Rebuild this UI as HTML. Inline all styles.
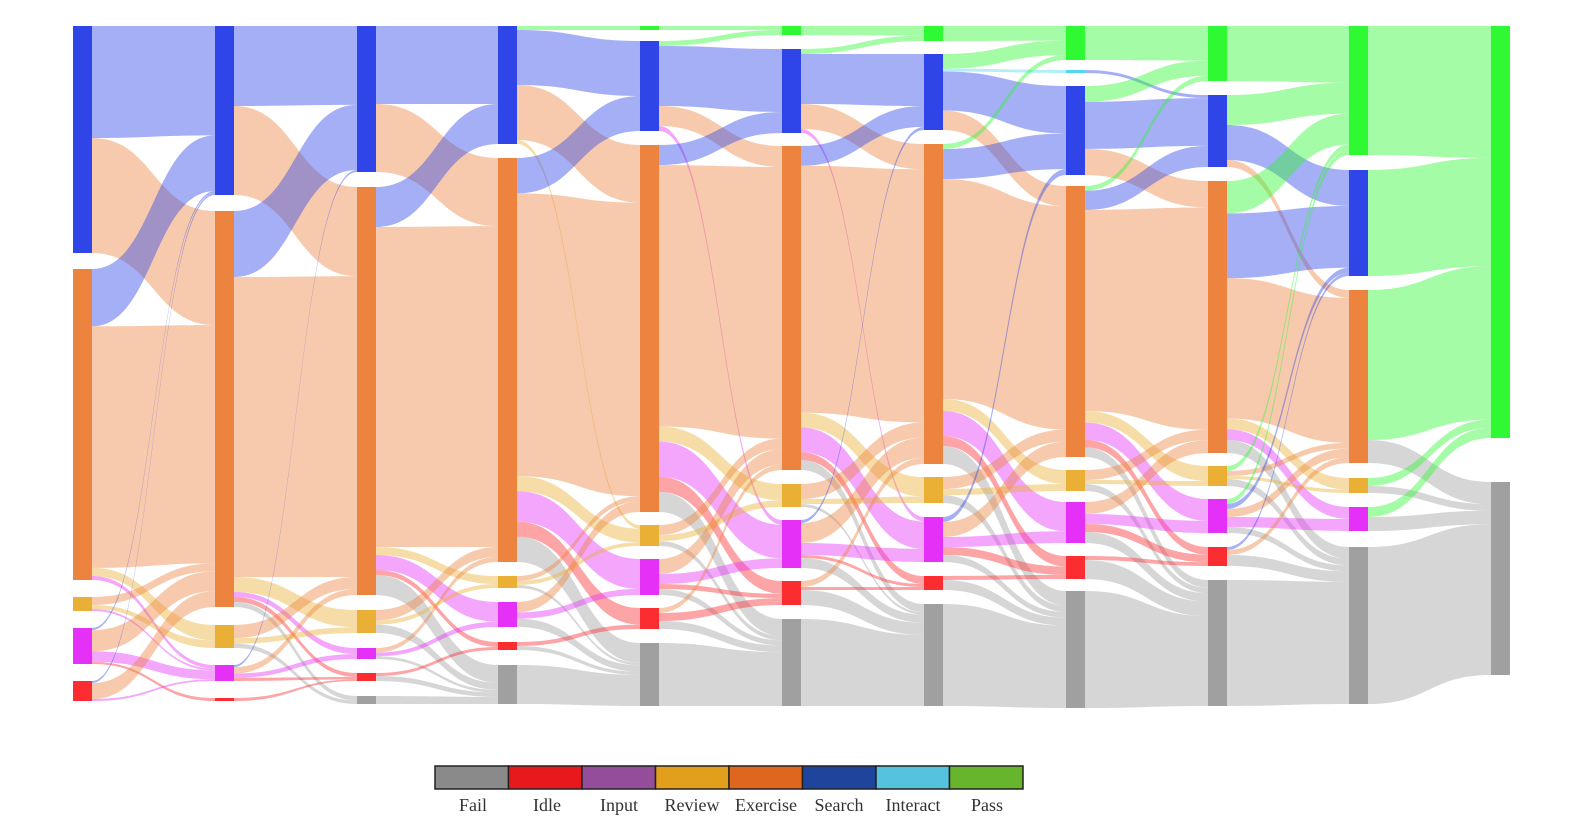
<!DOCTYPE html>
<html style="overflow:hidden"><head><meta charset="utf-8"><style>
html,body{margin:0;padding:0;background:#fff;width:1583px;height:832px;overflow:hidden}
svg{display:block}
</style></head><body>
<svg id="s" width="1583" height="832" xmlns="http://www.w3.org/2000/svg">
<g id="flows"></g><g id="nodes"></g>
<g font-family="Liberation Serif, serif" font-size="18" fill="#333" text-anchor="middle">
<rect x="435" y="766" width="73.5" height="23" fill="#8a8a8a" stroke="#222" stroke-width="1.5"/>
<rect x="508.5" y="766" width="73.5" height="23" fill="#e8191c" stroke="#222" stroke-width="1.5"/>
<rect x="582" y="766" width="73.5" height="23" fill="#944d9b" stroke="#222" stroke-width="1.5"/>
<rect x="655.5" y="766" width="73.5" height="23" fill="#e19f1c" stroke="#222" stroke-width="1.5"/>
<rect x="729" y="766" width="73.5" height="23" fill="#df661f" stroke="#222" stroke-width="1.5"/>
<rect x="802.5" y="766" width="73.5" height="23" fill="#1e459b" stroke="#222" stroke-width="1.5"/>
<rect x="876" y="766" width="73.5" height="23" fill="#55c2de" stroke="#222" stroke-width="1.5"/>
<rect x="949.5" y="766" width="73.5" height="23" fill="#67b42d" stroke="#222" stroke-width="1.5"/>
<text x="473" y="811">Fail</text><text x="547" y="811">Idle</text><text x="619" y="811">Input</text>
<text x="692" y="811">Review</text><text x="766" y="811">Exercise</text><text x="839" y="811">Search</text>
<text x="913" y="811">Interact</text><text x="987" y="811">Pass</text>
</g>
</svg>
<script>
var C=['#a0a0a0','#fb2d30','#e530f7','#e9b035','#ec8440','#2f45e8','#4fd8f0','#2ef932'];
var X=[73,215,357,498,640,782,924,1066,1208,1349,1491],W=19;
var N=[
{5:[26,253],4:[269,580],3:[597,611],2:[628,664],1:[681,701]},
{5:[26,195],4:[211,607],3:[625,648],2:[665,681],1:[698,701]},
{5:[26,172],4:[187,595],3:[610,633],2:[648,659],1:[673,681],0:[696,704]},
{5:[26,144],4:[158,562],3:[576,588],2:[602,627],1:[642,650],0:[665,704]},
{7:[26,30],5:[41,131],4:[145,512],3:[525,546],2:[559,595],1:[608,629],0:[643,706]},
{7:[26,35],5:[49,133],4:[146,470],3:[484,507],2:[520,568],1:[581,605],0:[619,706]},
{7:[26,41],5:[54,130],4:[144,464],3:[477,503],2:[517,562],1:[576,590],0:[604,706]},
{7:[26,60],6:[70,73],5:[86,175],4:[186,457],3:[470,491],2:[502,543],1:[556,579],0:[591,708]},
{7:[26,81],5:[95,167],4:[181,453],3:[466,486],2:[499,533],1:[547,566],0:[580,706]},
{7:[26,155],5:[170,276],4:[290,463],3:[478,493],2:[507,531],0:[547,704]},
{7:[26,438],0:[482,675]}];
var P=[
[[5,5,112],[5,4,115],[4,5,57],[4,4,240],[4,3,8],[4,2,4],[3,4,8],[3,3,4],[3,2,2],[2,5,2],[2,4,20],[2,2,10],[2,1,2],[1,5,2],[1,4,16],[1,2,2]],
[[5,5,80],[5,4,89],[4,5,66],[4,4,300],[4,3,15],[4,2,5],[4,1,5],[4,0,5],[3,4,12],[3,3,5],[3,0,4],[2,5,2],[2,4,6],[2,2,4],[2,1,3],[1,1,2]],
[[5,5,78],[5,4,68],[4,5,40],[4,4,320],[4,3,8],[4,2,15],[4,1,5],[4,0,20],[3,4,10],[3,3,4],[3,0,8],[2,4,5],[2,2,4],[2,0,3],[1,1,3],[1,0,5],[0,0,8]],
[[5,7,4],[5,5,55],[5,4,55],[5,3,4],[4,5,35],[4,4,280],[4,3,15],[4,2,30],[4,1,15],[4,0,25],[3,4,5],[3,3,4],[3,0,3],[2,4,10],[2,2,6],[2,0,8],[1,1,4],[1,0,4],[0,0,39]],
[[7,7,4],[5,7,5],[5,5,60],[5,4,20],[5,2,5],[4,5,20],[4,4,260],[4,3,15],[4,2,35],[4,1,15],[4,0,20],[3,4,10],[3,3,6],[3,0,5],[2,4,15],[2,2,10],[2,1,5],[2,0,6],[1,4,5],[1,1,8],[1,0,8],[0,0,63]],
[[7,7,9],[5,7,5],[5,5,50],[5,4,25],[5,2,4],[4,5,20],[4,4,250],[4,3,15],[4,2,25],[4,1,8],[4,0,10],[3,4,15],[3,3,5],[3,0,3],[2,5,3],[2,4,20],[2,2,12],[2,1,3],[2,0,10],[1,4,6],[1,1,3],[1,0,15],[0,0,87]],
[[7,7,15],[5,7,15],[5,6,3],[5,5,40],[5,4,20],[4,7,5],[4,5,30],[4,4,220],[4,3,12],[4,2,25],[4,1,10],[4,0,18],[3,4,12],[3,3,6],[3,0,8],[2,5,5],[2,4,15],[2,2,10],[2,1,8],[2,0,7],[1,1,4],[1,0,10],[0,0,102]],
[[7,7,34],[6,5,3],[5,7,15],[5,5,45],[5,4,25],[4,7,5],[4,5,20],[4,4,210],[4,3,12],[4,2,18],[4,1,8],[4,0,10],[3,4,10],[3,3,4],[3,0,7],[2,4,12],[2,2,10],[2,1,8],[2,0,11],[1,1,4],[1,0,19],[0,0,117]],
[[7,7,55],[5,7,30],[5,5,35],[5,4,7],[4,7,30],[4,5,60],[4,4,130],[4,3,10],[4,2,10],[4,0,12],[3,7,5],[3,4,5],[3,3,3],[3,0,7],[2,7,5],[2,5,5],[2,4,8],[2,2,10],[2,0,6],[1,5,3],[1,4,5],[1,0,11],[0,0,126]],
[[7,7,129],[5,7,106],[4,7,150],[4,0,23],[3,7,8],[3,0,7],[2,7,10],[2,0,14],[0,0,157]]];
var fg='',ng='';
for(var c=0;c<10;c++){
 var F=P[c].map(function(f){return {s:f[0],t:f[1],v:f[2]};});
 var outS={},inS={};F.forEach(function(f){outS[f.s]=(outS[f.s]||0)+f.v;inS[f.t]=(inS[f.t]||0)+f.v;});
 var oy={},iy={};
 F.slice().sort(function(a,b){return a.s!=b.s?b.s-a.s:b.t-a.t;}).forEach(function(f){
  var n=N[c][f.s],sc=(n[1]-n[0])/outS[f.s];if(oy[f.s]==null)oy[f.s]=n[0];f.y0=oy[f.s];f.y1=oy[f.s]+f.v*sc;oy[f.s]=f.y1;});
 F.slice().sort(function(a,b){return a.t!=b.t?b.t-a.t:b.s-a.s;}).forEach(function(f){
  var n=N[c+1][f.t],sc=(n[1]-n[0])/inS[f.t];if(iy[f.t]==null)iy[f.t]=n[0];f.z0=iy[f.t];f.z1=iy[f.t]+f.v*sc;iy[f.t]=f.z1;});
 var x0=X[c]+W,x1=X[c+1],xm=(x0+x1)/2;
 F.forEach(function(f){
  var op=0.43;
  fg+='<path d="M'+x0+','+f.y0+'C'+xm+','+f.y0+' '+xm+','+f.z0+' '+x1+','+f.z0+'L'+x1+','+f.z1+'C'+xm+','+f.z1+' '+xm+','+f.y1+' '+x0+','+f.y1+'Z" fill="'+C[f.t]+'" fill-opacity="'+op+'"/>';});
}
for(var c=0;c<11;c++)for(var k in N[c]){var n=N[c][k];ng+='<rect x="'+X[c]+'" y="'+n[0]+'" width="'+W+'" height="'+(n[1]-n[0])+'" fill="'+C[k]+'"/>';}
document.getElementById('flows').innerHTML=fg;document.getElementById('nodes').innerHTML=ng;
</script>
</body></html>
